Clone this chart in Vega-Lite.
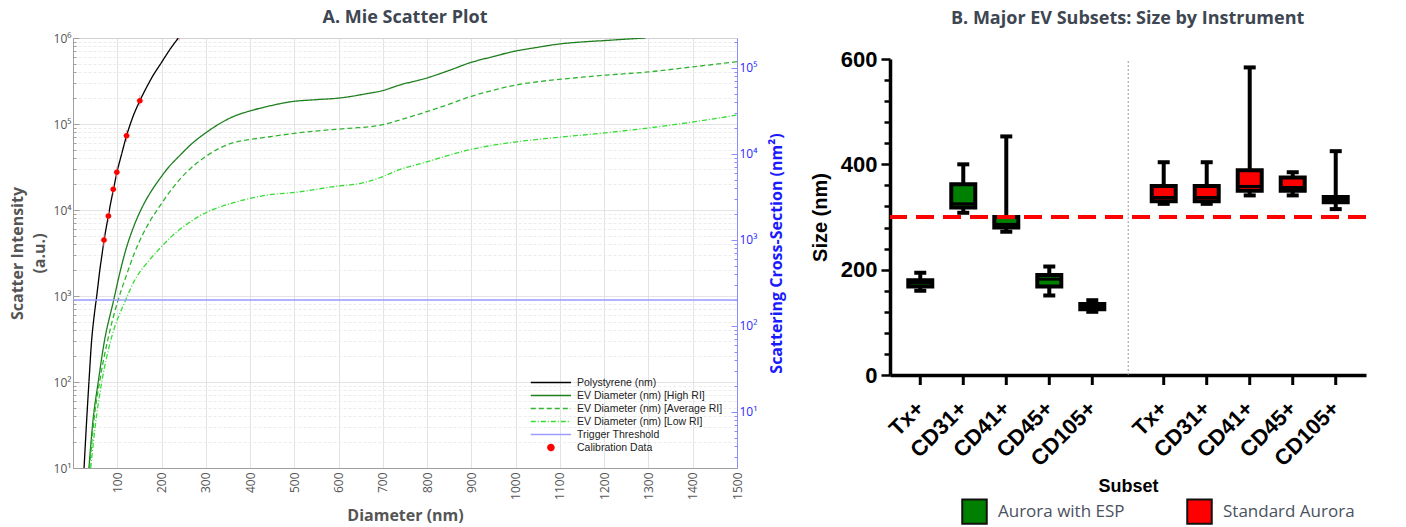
{
  "$schema": "https://vega.github.io/schema/vega-lite/v6.json",
  "background": "white",
  "padding": {"left": 8, "top": 8, "right": 0, "bottom": 0},
  "spacing": 24,
  "config": {"view": {"stroke": null}, "font": "Open Sans", "axis": {"labelOverlap": false}},
  "resolve": {"scale": {"color": "independent", "strokeDash": "independent", "fill": "independent"}, "legend": {"color": "independent", "strokeDash": "independent", "fill": "independent"}},
  "datasets": {
    "curves": [
      {"series": "Polystyrene (nm)", "d": 25, "v": 10},
      {"series": "Polystyrene (nm)", "d": 30, "v": 30},
      {"series": "Polystyrene (nm)", "d": 36, "v": 100},
      {"series": "Polystyrene (nm)", "d": 42, "v": 300},
      {"series": "Polystyrene (nm)", "d": 48, "v": 600},
      {"series": "Polystyrene (nm)", "d": 53, "v": 950},
      {"series": "Polystyrene (nm)", "d": 57, "v": 1400},
      {"series": "Polystyrene (nm)", "d": 60, "v": 1900},
      {"series": "Polystyrene (nm)", "d": 65, "v": 2900},
      {"series": "Polystyrene (nm)", "d": 70, "v": 4400},
      {"series": "Polystyrene (nm)", "d": 75, "v": 6200},
      {"series": "Polystyrene (nm)", "d": 80, "v": 8600},
      {"series": "Polystyrene (nm)", "d": 85, "v": 12000},
      {"series": "Polystyrene (nm)", "d": 91, "v": 17000},
      {"series": "Polystyrene (nm)", "d": 99, "v": 27000},
      {"series": "Polystyrene (nm)", "d": 110, "v": 45000},
      {"series": "Polystyrene (nm)", "d": 121, "v": 73000},
      {"series": "Polystyrene (nm)", "d": 135, "v": 120000},
      {"series": "Polystyrene (nm)", "d": 151, "v": 186000},
      {"series": "Polystyrene (nm)", "d": 165, "v": 260000},
      {"series": "Polystyrene (nm)", "d": 180, "v": 360000},
      {"series": "Polystyrene (nm)", "d": 200, "v": 520000},
      {"series": "Polystyrene (nm)", "d": 220, "v": 750000},
      {"series": "Polystyrene (nm)", "d": 238, "v": 1000000},
      {"series": "EV Diameter (nm) [High RI]", "d": 36, "v": 10},
      {"series": "EV Diameter (nm) [High RI]", "d": 45, "v": 35},
      {"series": "EV Diameter (nm) [High RI]", "d": 57, "v": 100},
      {"series": "EV Diameter (nm) [High RI]", "d": 70, "v": 280},
      {"series": "EV Diameter (nm) [High RI]", "d": 92, "v": 900},
      {"series": "EV Diameter (nm) [High RI]", "d": 104, "v": 1700},
      {"series": "EV Diameter (nm) [High RI]", "d": 119, "v": 3400},
      {"series": "EV Diameter (nm) [High RI]", "d": 135, "v": 6000},
      {"series": "EV Diameter (nm) [High RI]", "d": 156, "v": 10700},
      {"series": "EV Diameter (nm) [High RI]", "d": 175, "v": 16000},
      {"series": "EV Diameter (nm) [High RI]", "d": 194, "v": 22300},
      {"series": "EV Diameter (nm) [High RI]", "d": 215, "v": 31000},
      {"series": "EV Diameter (nm) [High RI]", "d": 239, "v": 41900},
      {"series": "EV Diameter (nm) [High RI]", "d": 270, "v": 60000},
      {"series": "EV Diameter (nm) [High RI]", "d": 300, "v": 79000},
      {"series": "EV Diameter (nm) [High RI]", "d": 330, "v": 100000},
      {"series": "EV Diameter (nm) [High RI]", "d": 359, "v": 120000},
      {"series": "EV Diameter (nm) [High RI]", "d": 400, "v": 142000},
      {"series": "EV Diameter (nm) [High RI]", "d": 435, "v": 158000},
      {"series": "EV Diameter (nm) [High RI]", "d": 494, "v": 182000},
      {"series": "EV Diameter (nm) [High RI]", "d": 550, "v": 192000},
      {"series": "EV Diameter (nm) [High RI]", "d": 600, "v": 200000},
      {"series": "EV Diameter (nm) [High RI]", "d": 661, "v": 224000},
      {"series": "EV Diameter (nm) [High RI]", "d": 700, "v": 245000},
      {"series": "EV Diameter (nm) [High RI]", "d": 736, "v": 282000},
      {"series": "EV Diameter (nm) [High RI]", "d": 797, "v": 340000},
      {"series": "EV Diameter (nm) [High RI]", "d": 850, "v": 420000},
      {"series": "EV Diameter (nm) [High RI]", "d": 894, "v": 510000},
      {"series": "EV Diameter (nm) [High RI]", "d": 950, "v": 610000},
      {"series": "EV Diameter (nm) [High RI]", "d": 991, "v": 690000},
      {"series": "EV Diameter (nm) [High RI]", "d": 1050, "v": 780000},
      {"series": "EV Diameter (nm) [High RI]", "d": 1097, "v": 850000},
      {"series": "EV Diameter (nm) [High RI]", "d": 1150, "v": 900000},
      {"series": "EV Diameter (nm) [High RI]", "d": 1203, "v": 935000},
      {"series": "EV Diameter (nm) [High RI]", "d": 1250, "v": 970000},
      {"series": "EV Diameter (nm) [High RI]", "d": 1293, "v": 1000000},
      {"series": "EV Diameter (nm) [Average RI]", "d": 37.5, "v": 10},
      {"series": "EV Diameter (nm) [Average RI]", "d": 47, "v": 35},
      {"series": "EV Diameter (nm) [Average RI]", "d": 60, "v": 100},
      {"series": "EV Diameter (nm) [Average RI]", "d": 78, "v": 300},
      {"series": "EV Diameter (nm) [Average RI]", "d": 102, "v": 900},
      {"series": "EV Diameter (nm) [Average RI]", "d": 120, "v": 1700},
      {"series": "EV Diameter (nm) [Average RI]", "d": 137, "v": 3000},
      {"series": "EV Diameter (nm) [Average RI]", "d": 160, "v": 5500},
      {"series": "EV Diameter (nm) [Average RI]", "d": 175, "v": 7600},
      {"series": "EV Diameter (nm) [Average RI]", "d": 194, "v": 10700},
      {"series": "EV Diameter (nm) [Average RI]", "d": 225, "v": 18000},
      {"series": "EV Diameter (nm) [Average RI]", "d": 255, "v": 27000},
      {"series": "EV Diameter (nm) [Average RI]", "d": 300, "v": 41900},
      {"series": "EV Diameter (nm) [Average RI]", "d": 330, "v": 52000},
      {"series": "EV Diameter (nm) [Average RI]", "d": 359, "v": 60000},
      {"series": "EV Diameter (nm) [Average RI]", "d": 400, "v": 66000},
      {"series": "EV Diameter (nm) [Average RI]", "d": 435, "v": 70000},
      {"series": "EV Diameter (nm) [Average RI]", "d": 510, "v": 79000},
      {"series": "EV Diameter (nm) [Average RI]", "d": 560, "v": 84000},
      {"series": "EV Diameter (nm) [Average RI]", "d": 623, "v": 89000},
      {"series": "EV Diameter (nm) [Average RI]", "d": 691, "v": 96000},
      {"series": "EV Diameter (nm) [Average RI]", "d": 740, "v": 112000},
      {"series": "EV Diameter (nm) [Average RI]", "d": 797, "v": 138000},
      {"series": "EV Diameter (nm) [Average RI]", "d": 850, "v": 170000},
      {"series": "EV Diameter (nm) [Average RI]", "d": 894, "v": 205000},
      {"series": "EV Diameter (nm) [Average RI]", "d": 940, "v": 240000},
      {"series": "EV Diameter (nm) [Average RI]", "d": 991, "v": 278000},
      {"series": "EV Diameter (nm) [Average RI]", "d": 1050, "v": 310000},
      {"series": "EV Diameter (nm) [Average RI]", "d": 1097, "v": 330000},
      {"series": "EV Diameter (nm) [Average RI]", "d": 1150, "v": 350000},
      {"series": "EV Diameter (nm) [Average RI]", "d": 1203, "v": 370000},
      {"series": "EV Diameter (nm) [Average RI]", "d": 1293, "v": 400000},
      {"series": "EV Diameter (nm) [Average RI]", "d": 1397, "v": 460000},
      {"series": "EV Diameter (nm) [Average RI]", "d": 1500, "v": 530000},
      {"series": "EV Diameter (nm) [Low RI]", "d": 40, "v": 10},
      {"series": "EV Diameter (nm) [Low RI]", "d": 50, "v": 30},
      {"series": "EV Diameter (nm) [Low RI]", "d": 65, "v": 100},
      {"series": "EV Diameter (nm) [Low RI]", "d": 85, "v": 300},
      {"series": "EV Diameter (nm) [Low RI]", "d": 119, "v": 900},
      {"series": "EV Diameter (nm) [Low RI]", "d": 140, "v": 1550},
      {"series": "EV Diameter (nm) [Low RI]", "d": 165, "v": 2350},
      {"series": "EV Diameter (nm) [Low RI]", "d": 190, "v": 3300},
      {"series": "EV Diameter (nm) [Low RI]", "d": 224, "v": 5000},
      {"series": "EV Diameter (nm) [Low RI]", "d": 260, "v": 7000},
      {"series": "EV Diameter (nm) [Low RI]", "d": 300, "v": 9300},
      {"series": "EV Diameter (nm) [Low RI]", "d": 359, "v": 12000},
      {"series": "EV Diameter (nm) [Low RI]", "d": 435, "v": 14800},
      {"series": "EV Diameter (nm) [Low RI]", "d": 510, "v": 16200},
      {"series": "EV Diameter (nm) [Low RI]", "d": 585, "v": 18600},
      {"series": "EV Diameter (nm) [Low RI]", "d": 661, "v": 21000},
      {"series": "EV Diameter (nm) [Low RI]", "d": 700, "v": 24500},
      {"series": "EV Diameter (nm) [Low RI]", "d": 736, "v": 29300},
      {"series": "EV Diameter (nm) [Low RI]", "d": 797, "v": 36000},
      {"series": "EV Diameter (nm) [Low RI]", "d": 894, "v": 50000},
      {"series": "EV Diameter (nm) [Low RI]", "d": 991, "v": 61000},
      {"series": "EV Diameter (nm) [Low RI]", "d": 1097, "v": 70000},
      {"series": "EV Diameter (nm) [Low RI]", "d": 1203, "v": 79000},
      {"series": "EV Diameter (nm) [Low RI]", "d": 1293, "v": 89000},
      {"series": "EV Diameter (nm) [Low RI]", "d": 1397, "v": 105000},
      {"series": "EV Diameter (nm) [Low RI]", "d": 1500, "v": 127000}
    ],
    "calib": [
      {"series": "Calibration Data", "d": 70, "v": 4470, "dLo": 62, "dHi": 78, "vLo": 3800, "vHi": 5200},
      {"series": "Calibration Data", "d": 80, "v": 8500, "dLo": 72, "dHi": 88, "vLo": 7300, "vHi": 9900},
      {"series": "Calibration Data", "d": 91, "v": 17400, "dLo": 84, "dHi": 98, "vLo": 15000, "vHi": 20000},
      {"series": "Calibration Data", "d": 99, "v": 27500, "dLo": 92, "dHi": 106, "vLo": 23500, "vHi": 32000},
      {"series": "Calibration Data", "d": 121, "v": 73000, "dLo": 113, "dHi": 129, "vLo": 62000, "vHi": 85000},
      {"series": "Calibration Data", "d": 151, "v": 186000, "dLo": 143, "dHi": 159, "vLo": 160000, "vHi": 216000},
      {"series": "Calibration Data", "d": 240, "v": 1080000, "dLo": 232, "dHi": 248, "vLo": 930000, "vHi": 1250000}
    ],
    "threshold": [
      {"series": "Trigger Threshold", "v": 900}
    ],
    "boxes": [
      {"instrument": "Aurora with ESP", "subset": "Tx+", "min": 160, "q1": 168, "median": 175, "q3": 180, "max": 194},
      {"instrument": "Aurora with ESP", "subset": "CD31+", "min": 308, "q1": 318, "median": 325, "q3": 362, "max": 400},
      {"instrument": "Aurora with ESP", "subset": "CD41+", "min": 272, "q1": 280, "median": 286, "q3": 300, "max": 453},
      {"instrument": "Aurora with ESP", "subset": "CD45+", "min": 151, "q1": 168, "median": 182, "q3": 190, "max": 206},
      {"instrument": "Aurora with ESP", "subset": "CD105+", "min": 120, "q1": 125, "median": 130, "q3": 135, "max": 142},
      {"instrument": "Standard Aurora", "subset": "Tx+", "min": 325, "q1": 330, "median": 337, "q3": 359, "max": 404},
      {"instrument": "Standard Aurora", "subset": "CD31+", "min": 325, "q1": 330, "median": 337, "q3": 359, "max": 404},
      {"instrument": "Standard Aurora", "subset": "CD41+", "min": 341, "q1": 350, "median": 358, "q3": 389, "max": 584},
      {"instrument": "Standard Aurora", "subset": "CD45+", "min": 341, "q1": 350, "median": 356, "q3": 375, "max": 385},
      {"instrument": "Standard Aurora", "subset": "CD105+", "min": 315, "q1": 328, "median": 333, "q3": 338, "max": 425}
    ]
  },
  "hconcat": [
    {
      "title": {"text": "A. Mie Scatter Plot", "font": "Open Sans", "fontSize": 18, "fontWeight": "bold", "color": "#3d4651", "offset": 5, "frame": "group"},
      "width": 664,
      "height": 430,
      "view": {"stroke": "#b4b4b4"},
      "layer": [
        {
          "layer": [
            {
              "data": {"name": "curves"},
              "mark": {"type": "line", "strokeWidth": 1.3, "clip": true, "interpolate": "monotone"},
              "encoding": {
                "x": {
                  "field": "d", "type": "quantitative",
                  "scale": {"domain": [0, 1500], "nice": false},
                  "axis": {
                    "values": [100, 200, 300, 400, 500, 600, 700, 800, 900, 1000, 1100, 1200, 1300, 1400, 1500],
                    "format": "d",
                    "labelAngle": 270, "grid": true, "gridColor": "#e3e3e3", "ticks": false,
                    "domainColor": "#a0a0a0", "labelColor": "#555555", "labelFontSize": 12, "labelPadding": 4,
                    "title": "Diameter (nm)", "titleFontSize": 16, "titleFontWeight": "bold", "titleColor": "#555555", "titlePadding": 8
                  }
                },
                "y": {
                  "field": "v", "type": "quantitative",
                  "scale": {"type": "log", "domain": [10, 1000000], "nice": false},
                  "axis": {
                    "values": [10,20,30,40,50,60,70,80,90,100,200,300,400,500,600,700,800,900,1000,2000,3000,4000,5000,6000,7000,8000,9000,10000,20000,30000,40000,50000,60000,70000,80000,90000,100000,200000,300000,400000,500000,600000,700000,800000,900000,1000000],
                    "labelExpr": "abs(log(datum.value)/LN10 - round(log(datum.value)/LN10)) < 0.01 ? '10' + ['⁰','¹','²','³','⁴','⁵','⁶'][round(log(datum.value)/LN10)] : ''",
                    "labelOverlap": false,
                    "grid": true,
                    "gridColor": {"condition": {"test": "abs(log(datum.value)/LN10 - round(log(datum.value)/LN10)) < 0.01", "value": "#dadada"}, "value": "#ececec"},
                    "gridDash": {"condition": {"test": "abs(log(datum.value)/LN10 - round(log(datum.value)/LN10)) < 0.01", "value": [1, 0]}, "value": [3, 2]},
                    "tickSize": {"condition": {"test": "abs(log(datum.value)/LN10 - round(log(datum.value)/LN10)) < 0.01", "value": -6}, "value": -3},
                    "tickColor": "#a0a0a0",
                    "domainColor": "#a0a0a0", "labelColor": "#555555", "labelFontSize": 12, "labelPadding": 8,
                    "title": ["Scatter Intensity", "(a.u.)"], "titleFontSize": 16, "titleFontWeight": "bold", "titleColor": "#555555", "titlePadding": 6, "titleLineHeight": 22
                  }
                },
                "color": {
                  "field": "series", "type": "nominal",
                  "scale": {
                    "domain": ["Polystyrene (nm)", "EV Diameter (nm) [High RI]", "EV Diameter (nm) [Average RI]", "EV Diameter (nm) [Low RI]", "Trigger Threshold", "Calibration Data"],
                    "range": ["#000000", "#1f7f1f", "#2fb52f", "#33dd33", "#9c9cff", "#ff0000"]
                  },
                  "legend": {
                    "orient": "bottom-right", "offset": 14, "padding": 0, "title": null,
                    "symbolType": "M-1,0H5", "symbolSize": 180, "symbolStrokeWidth": 1.5,
                    "labelFont": "Liberation Sans", "labelFontSize": 10.5, "labelColor": "#222222", "labelOffset": 32,
                    "rowPadding": 0,
                    "encode": {"symbols": {"update": {
                      "shape": {"signal": "datum.value === 'Calibration Data' ? 'M2.45,0A0.45,0.45,0,1,1,1.55,0A0.45,0.45,0,1,1,2.45,0Z' : 'M-1,0H5'"},
                      "fill": {"signal": "datum.value === 'Calibration Data' ? '#ff0000' : 'transparent'"}
                    }}}
                  }
                },
                "strokeDash": {
                  "field": "series", "type": "nominal",
                  "scale": {
                    "domain": ["Polystyrene (nm)", "EV Diameter (nm) [High RI]", "EV Diameter (nm) [Average RI]", "EV Diameter (nm) [Low RI]", "Trigger Threshold", "Calibration Data"],
                    "range": [[1, 0], [1, 0], [5, 3], [5, 2, 1, 2], [1, 0], [1, 0]]
                  },
                  "legend": {
                    "orient": "bottom-right", "offset": 14, "padding": 0, "title": null,
                    "symbolType": "M-1,0H5", "symbolSize": 180, "symbolStrokeWidth": 1.5,
                    "labelFont": "Liberation Sans", "labelFontSize": 10.5, "labelColor": "#222222", "labelOffset": 32,
                    "rowPadding": 0
                  }
                }
              }
            },
            {
              "data": {"name": "threshold"},
              "mark": {"type": "rule", "strokeWidth": 1.5},
              "encoding": {
                "y": {"field": "v", "type": "quantitative"},
                "color": {"field": "series", "type": "nominal"}
              }
            },
            {
              "data": {"name": "calib"},
              "mark": {"type": "rule", "color": "#ff9a9a", "strokeWidth": 1, "clip": true},
              "encoding": {
                "x": {"field": "dLo", "type": "quantitative"},
                "x2": {"field": "dHi"},
                "y": {"field": "v", "type": "quantitative"}
              }
            },
            {
              "data": {"name": "calib"},
              "mark": {"type": "rule", "color": "#ff9a9a", "strokeWidth": 1, "clip": true},
              "encoding": {
                "x": {"field": "d", "type": "quantitative"},
                "y": {"field": "vLo", "type": "quantitative"},
                "y2": {"field": "vHi"}
              }
            },
            {
              "data": {"name": "calib"},
              "mark": {"type": "point", "shape": "circle", "filled": true, "size": 30, "opacity": 1, "clip": true},
              "encoding": {
                "x": {"field": "d", "type": "quantitative"},
                "y": {"field": "v", "type": "quantitative"},
                "color": {"field": "series", "type": "nominal"}
              }
            }
          ]
        },
        {
          "data": {"values": [{"cs": 2.23}, {"cs": 223000}]},
          "mark": {"type": "point", "opacity": 0},
          "encoding": {
            "y": {
              "field": "cs", "type": "quantitative",
              "scale": {"type": "log", "domain": [2.23, 223000], "nice": false},
              "axis": {
                "orient": "right",
                "values": [3,4,5,6,7,8,9,10,20,30,40,50,60,70,80,90,100,200,300,400,500,600,700,800,900,1000,2000,3000,4000,5000,6000,7000,8000,9000,10000,20000,30000,40000,50000,60000,70000,80000,90000,100000,200000],
                "labelExpr": "abs(log(datum.value)/LN10 - round(log(datum.value)/LN10)) < 0.01 ? '10' + ['⁰','¹','²','³','⁴','⁵','⁶'][round(log(datum.value)/LN10)] : ''",
                "labelOverlap": false,
                "grid": false,
                "tickSize": {"condition": {"test": "abs(log(datum.value)/LN10 - round(log(datum.value)/LN10)) < 0.01", "value": -6}, "value": -3},
                "tickColor": "#8c8cff", "domainColor": "#8c8cff",
                "labelColor": "#2a2aff", "labelFontSize": 12, "labelPadding": 8,
                "title": "Scattering Cross-Section (nm²)", "titleColor": "#1a1aff", "titleFontSize": 16, "titleFontWeight": "bold", "titleAngle": 270, "titleBaseline": "top", "titlePadding": 12
              }
            }
          }
        }
      ],
      "resolve": {"scale": {"y": "independent"}}
    },
    {
      "title": {"text": "B. Major EV Subsets: Size by Instrument", "font": "Open Sans", "fontSize": 18, "fontWeight": "bold", "color": "#3d4651", "offset": 10, "frame": "group", "anchor": "start", "dx": 61},
      "spacing": 9,
      "resolve": {"scale": {"fill": "independent"}, "legend": {"fill": "independent"}},
      "vconcat": [
        {
          "width": 476,
          "height": 1,
          "data": {"values": []},
          "mark": {"type": "point", "opacity": 0}
        },
        {
          "width": 476,
          "height": 316,
          "resolve": {"scale": {"y": "independent"}},
          "layer": [
            {
              "layer": [
                {
                  "data": {"name": "boxes"},
                  "mark": {"type": "rule", "color": "#000000", "strokeWidth": 4},
                  "encoding": {
                    "x": {
                      "field": "instrument", "type": "nominal",
                      "scale": {"type": "band", "domain": ["Aurora with ESP", "Standard Aurora"], "paddingInner": 0.1167, "paddingOuter": 0.036},
                      "axis": {"labels": false, "ticks": false, "domainWidth": 3.5, "domainColor": "#000000", "title": "Subset", "titleFont": "Liberation Sans", "titleFontSize": 18, "titleFontWeight": "bold", "titleColor": "#000000", "titlePadding": 102}
                    },
                    "xOffset": {"field": "subset", "type": "nominal", "scale": {"type": "band", "domain": ["Tx+", "CD31+", "CD41+", "CD45+", "CD105+"], "paddingInner": 0, "paddingOuter": 0}},
                    "y": {
                      "field": "min", "type": "quantitative",
                      "scale": {"domain": [0, 600], "nice": false},
                      "axis": {
                        "values": [0, 200, 400, 600],
                        "grid": false,
                        "tickSize": 9, "tickWidth": 2.5, "tickColor": "#000000",
                        "domainWidth": 3.5, "domainColor": "#000000",
                        "labelFont": "Liberation Sans", "labelFontSize": 22, "labelFontWeight": "bold", "labelColor": "#000000", "labelPadding": 4,
                        "title": "Size (nm)", "titleFont": "Liberation Sans", "titleFontSize": 20, "titleFontWeight": "bold", "titleColor": "#000000", "titlePadding": 10
                      }
                    },
                    "y2": {"field": "max"}
                  }
                },
                {
                  "data": {"values": [{}]},
                  "mark": {"type": "rule", "color": "#999999", "strokeWidth": 1, "strokeDash": [2, 2], "xOffset": -14},
                  "encoding": {
                    "x": {"datum": "Standard Aurora", "type": "nominal", "bandPosition": 0},
                    "y": {"datum": 0, "type": "quantitative"},
                    "y2": {"datum": 600}
                  }
                },
                {
                  "data": {"name": "boxes"},
                  "mark": {"type": "bar", "width": 24, "stroke": "#000000", "strokeWidth": 4},
                  "encoding": {
                    "x": {"field": "instrument", "type": "nominal"},
                    "xOffset": {"field": "subset", "type": "nominal"},
                    "y": {"field": "q1", "type": "quantitative"},
                    "y2": {"field": "q3"},
                    "fill": {
                      "field": "instrument", "type": "nominal",
                      "scale": {"domain": ["Aurora with ESP", "Standard Aurora"], "range": ["#008000", "#ff0000"]},
                      "legend": {
                        "orient": "none", "legendX": 71, "legendY": 439, "direction": "horizontal", "title": null, "padding": 0,
                        "symbolType": "square", "symbolSize": 600, "symbolStrokeColor": "#111111", "symbolStrokeWidth": 2,
                        "labelFont": "Open Sans", "labelFontSize": 17, "labelColor": "#4a5260", "labelOffset": 10, "columnPadding": 58
                      }
                    }
                  }
                },
                {
                  "data": {"name": "boxes"},
                  "mark": {"type": "tick", "color": "#000000", "size": 24, "thickness": 3, "opacity": 1},
                  "encoding": {
                    "x": {"field": "instrument", "type": "nominal"},
                    "xOffset": {"field": "subset", "type": "nominal"},
                    "y": {"field": "median", "type": "quantitative"}
                  }
                },
                {
                  "data": {"name": "boxes"},
                  "mark": {"type": "tick", "color": "#000000", "size": 12, "thickness": 4, "opacity": 1},
                  "encoding": {
                    "x": {"field": "instrument", "type": "nominal"},
                    "xOffset": {"field": "subset", "type": "nominal"},
                    "y": {"field": "max", "type": "quantitative"}
                  }
                },
                {
                  "data": {"name": "boxes"},
                  "mark": {"type": "tick", "color": "#000000", "size": 12, "thickness": 4, "opacity": 1},
                  "encoding": {
                    "x": {"field": "instrument", "type": "nominal"},
                    "xOffset": {"field": "subset", "type": "nominal"},
                    "y": {"field": "min", "type": "quantitative"}
                  }
                },
                {
                  "data": {"name": "boxes"},
                  "mark": {"type": "tick", "orient": "vertical", "color": "#000000", "size": 10, "thickness": 3, "yOffset": 5, "opacity": 1},
                  "encoding": {
                    "x": {"field": "instrument", "type": "nominal"},
                    "xOffset": {"field": "subset", "type": "nominal"},
                    "y": {"datum": 0, "type": "quantitative"}
                  }
                },
                {
                  "data": {"name": "boxes"},
                  "mark": {"type": "text", "angle": 315, "align": "right", "baseline": "middle", "font": "Liberation Sans", "fontSize": 22, "fontWeight": "bold", "color": "#000000", "yOffset": 30},
                  "encoding": {
                    "x": {"field": "instrument", "type": "nominal"},
                    "xOffset": {"field": "subset", "type": "nominal"},
                    "y": {"datum": 0, "type": "quantitative"},
                    "text": {"field": "subset"}
                  }
                },
                {
                  "data": {"values": [{}]},
                  "mark": {"type": "rule", "color": "#ff0000", "strokeWidth": 4, "strokeDash": [18, 9], "x2Offset": 32},
                  "encoding": {
                    "y": {"datum": 300, "type": "quantitative"}
                  }
                }
              ]
            },
            {
              "data": {"values": [{"m": 0}, {"m": 600}]},
              "mark": {"type": "point", "opacity": 0},
              "encoding": {
                "y": {
                  "field": "m", "type": "quantitative",
                  "scale": {"domain": [0, 600], "nice": false},
                  "axis": {
                    "orient": "left",
                    "values": [40, 80, 120, 160, 240, 280, 320, 360, 440, 480, 520, 560],
                    "labels": false, "domain": false, "grid": false,
                    "tickSize": 6, "tickWidth": 2.5, "tickColor": "#000000",
                    "title": null
                  }
                }
              }
            }
          ]
        }
      ]
    }
  ]
}
